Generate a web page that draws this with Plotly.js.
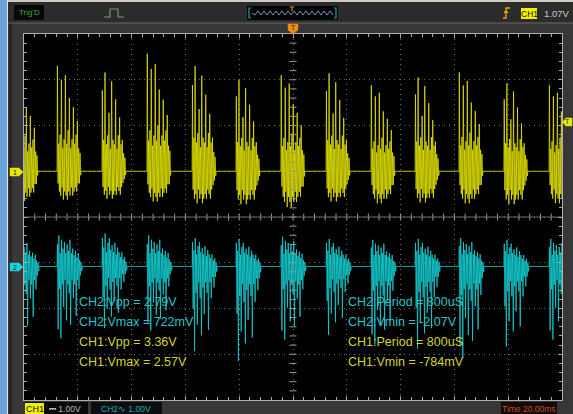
<!DOCTYPE html>
<html><head><meta charset="utf-8">
<script src="https://cdn.plot.ly/plotly-3.0.1.min.js"></script>
<style>html,body{margin:0;padding:0;background:#373737;}#scope{width:573px;height:414px;}</style>
</head><body><div id="scope"></div>
<script>
// Time base 20 ms/div over 10 divisions; CH1 and CH2 both at 1.00 V/div.
// Burst onset times (ms from screen centre) of the repeating pulse packets.
const burstStartMs = [-103.7, -87.7, -71.0, -54.3, -37.5, -21.2, -4.5, 12.3, 29.0, 45.4, 61.7, 78.4, 95.2];
// which of the two packet shapes each burst follows
const burstShape = [0, 0, 1, 0, 1, 1, 0, 1, 0, 1, 0, 1, 0];

// CH1: positive peak and negative trough of every packet (V)
const ch1PeakV   = [1.99, 2.30, 2.16, 2.57, 2.30, 2.00, 2.10, 2.14, 1.88, 2.05, 2.16, 1.92, 1.88];
const ch1TroughV = [-0.65, -0.62, -0.60, -0.66, -0.70, -0.72, -0.784, -0.66, -0.70, -0.68, -0.70, -0.72, -0.70];
// CH1 packet shapes: successive positive and negative swings (V)
const ch1UpA   = [2.3, 0.6, 0.8, 2.0, 0.5, 0.7, 2.1, 0.6, 0.9, 1.6, 0.5, 0.7, 1.4, 0.6, 0.8, 1.1, 0.5, 0.4];
const ch1DownA = [-0.3, -0.5, -0.6, -0.4, -0.7, -0.5, -0.6, -0.7, -0.5, -0.6, -0.4, -0.6, -0.5, -0.4, -0.5, -0.3, -0.3, -0.1];
const ch1UpB   = [1.8, 0.7, 2.2, 0.6, 0.8, 1.3, 0.5, 2.0, 0.7, 0.6, 1.6, 0.5, 0.8, 1.2, 0.6, 0.7, 0.4, 0.3];
const ch1DownB = [-0.4, -0.6, -0.5, -0.7, -0.4, -0.6, -0.5, -0.7, -0.6, -0.5, -0.6, -0.4, -0.5, -0.6, -0.4, -0.3, -0.2, -0.1];

// CH2: positive peak and negative trough of every packet (V)
const ch2PeakV   = [0.60, 0.68, 0.722, 0.68, 0.62, 0.60, 0.65, 0.60, 0.58, 0.60, 0.62, 0.58, 0.60];
const ch2TroughV = [-1.60, -1.57, -1.35, -1.40, -1.85, -2.07, -1.60, -1.50, -1.70, -1.80, -2.00, -1.75, -1.60];
// CH2 packet shapes: successive positive and negative swings (V)
const ch2UpA   = [0.5, 0.7, 0.3, 0.6, 0.4, 0.55, 0.3, 0.5, 0.35, 0.6, 0.3, 0.4, 0.25, 0.35, 0.2, 0.3, 0.15, 0.1];
const ch2DownA = [-1.4, -0.5, -1.6, -0.4, -0.9, -0.3, -1.2, -0.4, -0.6, -1.3, -0.3, -0.7, -0.4, -1.1, -0.3, -0.5, -0.2, -0.1];
const ch2UpB   = [0.6, 0.4, 0.7, 0.3, 0.5, 0.6, 0.35, 0.45, 0.3, 0.5, 0.25, 0.4, 0.3, 0.2, 0.3, 0.15, 0.2, 0.1];
const ch2DownB = [-0.8, -1.6, -0.5, -1.1, -0.3, -0.6, -1.3, -0.4, -0.9, -0.3, -0.5, -1.2, -0.3, -0.6, -0.2, -0.4, -0.2, -0.1];

// Measurement readouts
const leftReadouts  = [['CH2:Vpp = 2.79V', 'ch2'], ['CH2:Vmax = 722mV', 'ch2'], ['CH1:Vpp = 3.36V', 'ch1'], ['CH1:Vmax = 2.57V', 'ch1']];
const rightReadouts = [['CH2:Period = 800uS', 'ch2'], ['CH2:Vmin = -2.07V', 'ch2'], ['CH1:Period = 800uS', 'ch1'], ['CH1:Vmin = -784mV', 'ch1']];

const W = 573, H = 414;
const px = x => x / W;
const py = y => 1 - y / H;
const COL = { ch1: '#e4e400', ch2: '#14d2d6', ch1txt: '#d4d42a', ch2txt: '#2cc4c8' };

// channel ground positions in divisions from the screen centre
const CH1_OFFSET = 1.0, CH2_OFFSET = -1.08;
const CH1_DUR = 8.9, CH2_DUR = 9.3;

function interleave(up, down) {
  const out = [];
  up.forEach((u, i) => { out.push(u); out.push(down[i]); });
  return out;
}

function packetTrace(shapes, peaks, troughs, dur, offset, color) {
  const x = [-110], y = [offset];
  burstStartMs.forEach((t0, b) => {
    const packet = shapes[burstShape[b]];
    const pMax = Math.max(...packet), pMin = Math.min(...packet);
    x.push(t0); y.push(offset);
    packet.forEach((v, i) => {
      const k = v >= 0 ? peaks[b] / pMax : troughs[b] / pMin;
      x.push(t0 + (i + 0.5) * dur / packet.length);
      y.push(offset + v * k);
    });
    x.push(t0 + dur); y.push(offset);
  });
  x.push(110); y.push(offset);
  return { x, y, type: 'scatter', mode: 'lines', line: { color, width: 0.9 }, opacity: 0.88, hoverinfo: 'skip', showlegend: false };
}

const traces = [
  packetTrace([interleave(ch1UpA, ch1DownA), interleave(ch1UpB, ch1DownB)], ch1PeakV, ch1TroughV, CH1_DUR, CH1_OFFSET, COL.ch1),
  packetTrace([interleave(ch2UpA, ch2DownA), interleave(ch2UpB, ch2DownB)], ch2PeakV, ch2TroughV, CH2_DUR, CH2_OFFSET, COL.ch2)
];

// tick marks on the centre cross-hair
const cx = [], cy = [];
for (let t = -96; t <= 96; t += 4) { cx.push(t); cy.push(0); }
const vx = [], vy = [];
for (let d = -3.8; d <= 3.81; d += 0.2) { vx.push(0); vy.push(d); }
traces.push({ x: cx, y: cy, type: 'scatter', mode: 'markers', marker: { symbol: 'line-ns', size: 5, line: { color: '#9a9a9a', width: 1 } }, hoverinfo: 'skip', showlegend: false });
traces.push({ x: vx, y: vy, type: 'scatter', mode: 'markers', marker: { symbol: 'line-ew', size: 5, line: { color: '#9a9a9a', width: 1 } }, hoverinfo: 'skip', showlegend: false });
traces.push({ x: [-100, 100], y: [0, 0], type: 'scatter', mode: 'lines', line: { color: '#6a6a6a', width: 1 }, hoverinfo: 'skip', showlegend: false });

const shapes = [];
const rect = (x0, y0, x1, y1, fill, line) => shapes.push({ type: 'rect', xref: 'paper', yref: 'paper', x0: px(x0), x1: px(x1), y0: py(y0), y1: py(y1), fillcolor: fill, line: line || { width: 0 } });
const path = (d, fill, color, width) => shapes.push({ type: 'path', xref: 'paper', yref: 'paper', path: d, fillcolor: fill || 'rgba(0,0,0,0)', line: { color: color || 'rgba(0,0,0,0)', width: width || 0 } });
const P = (x, y) => px(x).toFixed(5) + ',' + py(y).toFixed(5);

// frame and bars
rect(0, 0, W, 23, '#2b2b2b');
rect(8, 0, W, 2, '#cfc9bf');
rect(8, 22.5, W, 23.5, '#6a6a6a');
rect(9, 23.5, 12, H, '#252525');
rect(0, 0, 7, H, '#6ba3da');
rect(7, 0, 8, H, '#dfe8f2');

// top bar widgets
rect(14, 5, 44, 20, '#050805');
path('M' + P(104, 17) + ' L' + P(110, 17) + ' L' + P(110, 9) + ' L' + P(118, 9) + ' L' + P(118, 17) + ' L' + P(124, 17), null, '#6c9a6c', 1.2);
rect(247, 6, 338, 20, '#020406');
let zig = 'M' + P(252, 13);
for (let xx = 252, s = 1; xx <= 332; xx += 3, s = -s) zig += ' L' + P(xx + 3, 13 + 2 * s);
path(zig, null, '#7f8fb8', 1);
path('M' + P(251, 8) + ' L' + P(249, 8) + ' L' + P(249, 18) + ' L' + P(251, 18), null, '#1fa3b3', 1.2);
path('M' + P(334, 8) + ' L' + P(336, 8) + ' L' + P(336, 18) + ' L' + P(334, 18), null, '#1fa3b3', 1.2);
path('M' + P(290, 7) + ' L' + P(294, 7) + ' M' + P(292, 7) + ' L' + P(292, 11), null, '#e08a20', 1.2);
path('M' + P(503, 18) + ' L' + P(506, 18) + ' L' + P(506, 8) + ' L' + P(510, 8) + ' M' + P(504, 13) + ' L' + P(506, 11) + ' L' + P(508, 13), null, '#f0a800', 1.3);
rect(521, 8, 537, 19, '#f0f000');

// trigger position marker, trigger level marker, channel ground markers
path('M' + P(288, 24) + ' L' + P(298, 24) + ' L' + P(298, 30) + ' L' + P(293, 34) + ' L' + P(288, 30) + ' Z', '#f08a10', '#f08a10', 0.5);
path('M' + P(572, 118) + ' L' + P(566, 118) + ' L' + P(562.5, 122) + ' L' + P(566, 126) + ' L' + P(572, 126) + ' Z', '#e8e800', '#e8e800', 0.5);
path('M' + P(10, 168) + ' L' + P(19, 168) + ' L' + P(23, 172) + ' L' + P(19, 176) + ' L' + P(10, 176) + ' Z', '#e8e800', '#e8e800', 0.5);
path('M' + P(10, 263) + ' L' + P(19, 263) + ' L' + P(23, 267) + ' L' + P(19, 271) + ' L' + P(10, 271) + ' Z', '#19d4d8', '#19d4d8', 0.5);

// bottom status bar
rect(25, 402, 88, H, '#080808');
rect(25, 403, 44, H, '#f0f000');
rect(91, 402, 162, H, '#0a0e10');
rect(501, 402, 557, H, '#120a06');

const ann = [];
const txt = (text, x, y, color, size, anchor) => ann.push({ text, xref: 'paper', yref: 'paper', x: px(x), y: py(y), xanchor: anchor || 'left', yanchor: 'middle', showarrow: false, font: { family: 'Liberation Sans, Arial, sans-serif', size, color } });

leftReadouts.forEach((r, i) => txt(r[0], 77, 302 + i * 20, COL[r[1] + 'txt'], 12.5));
rightReadouts.forEach((r, i) => txt(r[0], 346, 302 + i * 20, COL[r[1] + 'txt'], 12.5));

txt("Trig'D", 29, 12.5, '#3fae3f', 8, 'center');
txt('CH1', 529, 13.5, '#101000', 8.5, 'center');
txt('1.07V', 556, 13.5, '#c8c8c8', 9.5, 'center');
txt('T', 293, 28, '#3a1a00', 7, 'center');
txt('T', 567.5, 122, '#303000', 7, 'center');
txt('1', 15, 172, '#202000', 7, 'center');
txt('2', 15, 267, '#002020', 7, 'center');
txt('CH1', 34.5, 409, '#101000', 9, 'center');
txt('⎓ 1.00V', 47, 409, '#b8b8b8', 8.5, 'left');
txt('CH2∿ 1.00V', 99, 409, '#1ea8b4', 8.5, 'left');
txt('Time 20.00ms', 529, 409, '#c0502a', 8.5, 'center');

const axisBase = {
  showticklabels: false, zeroline: false, showline: true, linecolor: '#b0b0b0', linewidth: 1,
  mirror: 'ticks', ticks: 'inside', ticklen: 4, tickcolor: '#a8a8a8', tickwidth: 1,
  showgrid: true, gridcolor: '#6a6a6a', griddash: '1px,4px', gridwidth: 1, fixedrange: true
};

const layout = {
  width: W, height: H, margin: { l: 0, r: 0, t: 0, b: 0 },
  paper_bgcolor: '#373737', plot_bgcolor: '#000000', showlegend: false,
  xaxis: Object.assign({}, axisBase, { domain: [px(24), px(562)], range: [-100, 100], dtick: 20, tick0: 0,
    minor: { dtick: 4, ticks: 'inside', ticklen: 3, tickcolor: '#a8a8a8', showgrid: false } }),
  yaxis: Object.assign({}, axisBase, { domain: [py(400), py(34)], range: [-4, 4], dtick: 1, tick0: 0,
    minor: { dtick: 0.2, ticks: 'inside', ticklen: 3, tickcolor: '#a8a8a8', showgrid: false } }),
  shapes, annotations: ann
};

Plotly.newPlot('scope', traces, layout, { staticPlot: true, displayModeBar: false });
</script></body></html>
